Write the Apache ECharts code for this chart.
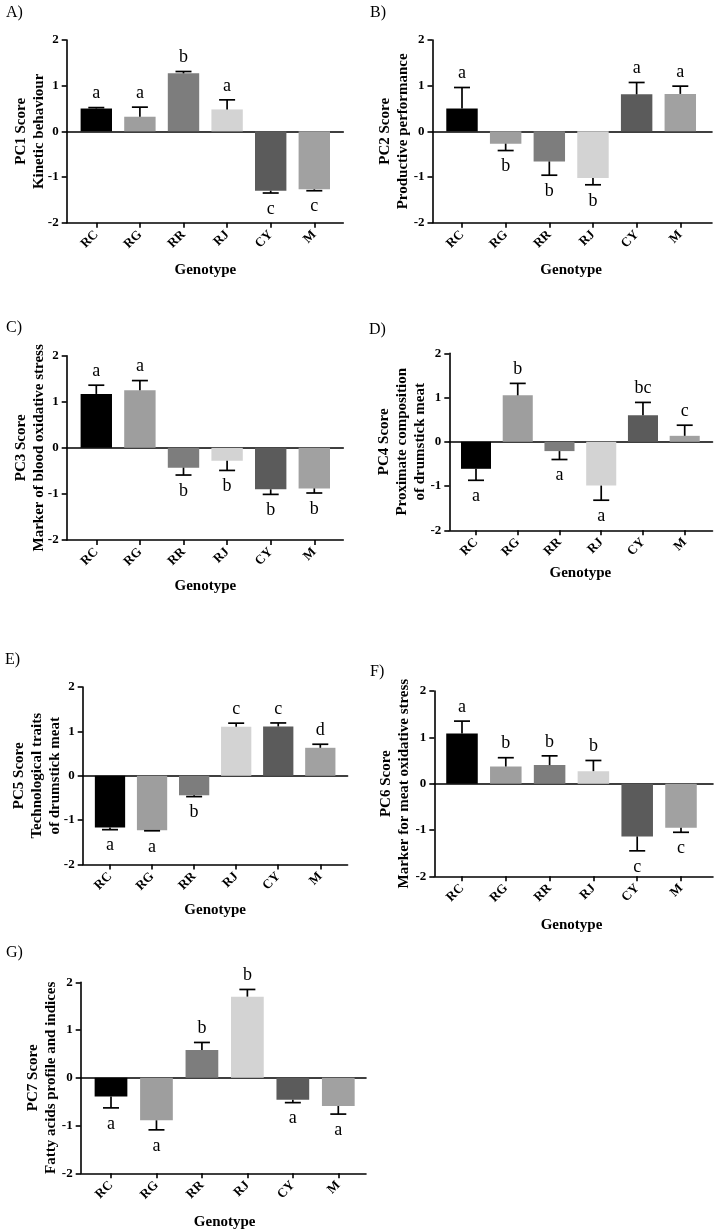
<!DOCTYPE html>
<html><head><meta charset="utf-8">
<script src="https://cdn.jsdelivr.net/npm/echarts@6/dist/echarts.min.js"></script>
<style>html,body{margin:0;padding:0;background:#fff}#c{width:714px;height:1230px}</style>
</head><body><div id="c"></div>
<script>
// ---------- data ----------
const genotypes = ['RC','RG','RR','RJ','CY','M'];
const yTickValues = [-2,-1,0,1,2];
const barColors = ['#000000','#9e9e9e','#7d7d7d','#d3d3d3','#5b5b5b','#a1a1a1'];

const pc1Mean = [0.50, 0.32, 1.27, 0.48, -1.30, -1.27];
const pc1Err  = [0.02, 0.21, 0.04, 0.21, 0.05, 0.03];
const pc1Letters = ['a','a','b','a','c','c'];

const pc2Mean = [0.50, -0.27, -0.66, -1.02, 0.81, 0.82];
const pc2Err  = [0.46, 0.15, 0.30, 0.15, 0.26, 0.17];
const pc2Letters = ['a','b','b','b','a','a'];

const pc3Mean = [1.17, 1.25, -0.43, -0.28, -0.90, -0.88];
const pc3Err  = [0.19, 0.21, 0.16, 0.21, 0.11, 0.10];
const pc3Letters = ['a','a','b','b','b','b'];

const pc4Mean = [-0.61, 1.05, -0.21, -0.99, 0.60, 0.135];
const pc4Err  = [0.26, 0.27, 0.19, 0.33, 0.29, 0.24];
const pc4Letters = ['a','b','a','a','bc','c'];

const pc5Mean = [-1.165, -1.23, -0.44, 1.105, 1.11, 0.63];
const pc5Err  = [0.05, 0.01, 0.03, 0.08, 0.08, 0.08];
const pc5Letters = ['a','a','b','c','c','d'];

const pc6Mean = [1.08, 0.37, 0.40, 0.27, -1.14, -0.95];
const pc6Err  = [0.27, 0.19, 0.20, 0.23, 0.31, 0.10];
const pc6Letters = ['a','b','b','b','c','c'];

const pc7Mean = [-0.39, -0.89, 0.58, 1.70, -0.46, -0.59];
const pc7Err  = [0.24, 0.20, 0.16, 0.15, 0.06, 0.17];
const pc7Letters = ['a','a','b','b','a','a'];

const panelTags = ['A)','B)','C)','D)','E)','F)','G)'];
const yTitles = [
  'PC1 Score\nKinetic behaviour',
  'PC2 Score\nProductive performance',
  'PC3 Score\nMarker of blood oxidative stress',
  'PC4 Score\nProximate composition\nof drumstick meat',
  'PC5 Score\nTechnological traits\nof drumstick meat',
  'PC6 Score\nMarker for meat oxidative stress',
  'PC7 Score\nFatty acids profile and indices'
];
const xTitle = 'Genotype';

// ---------- layout (pixels) ----------
const layout = [
  {axisX:66.7,  c0:96.3,  c5:314.3, end:343.3, top:40,    bot:222.7,  tagX:1,   tagY:0,   nameGap:19, xNameGap:39.5},
  {axisX:432.5, c0:462,   c5:680.3, end:712,   top:40,    bot:222.7,  tagX:365, tagY:0,   nameGap:20, xNameGap:39.5},
  {axisX:66.7,  c0:96.3,  c5:314.3, end:343.3, top:355.7, bot:540,    tagX:1,   tagY:315, nameGap:19, xNameGap:39},
  {axisX:449.3, c0:476,   c5:684.7, end:712.5, top:353.3, bot:530.3,  tagX:364, tagY:317, nameGap:20, xNameGap:35.5},
  {axisX:82.7,  c0:110,   c5:320.3, end:347.6, top:687,   bot:864.5,  tagX:0,   tagY:647, nameGap:19, xNameGap:38},
  {axisX:434.3, c0:462,   c5:681,   end:713,   top:691,   bot:876.3,  tagX:365, tagY:659, nameGap:21, xNameGap:41},
  {axisX:80.7,  c0:111,   c5:338.3, end:366,   top:982.3, bot:1173.3, tagX:1,   tagY:940, nameGap:21, xNameGap:41}
];

const means = [pc1Mean,pc2Mean,pc3Mean,pc4Mean,pc5Mean,pc6Mean,pc7Mean];
const errs = [pc1Err,pc2Err,pc3Err,pc4Err,pc5Err,pc6Err,pc7Err];
const letters = [pc1Letters,pc2Letters,pc3Letters,pc4Letters,pc5Letters,pc6Letters,pc7Letters];

const FONT = '"Liberation Serif", "Times New Roman", serif';
const axisLineStyle = {color:'#000', width:1.6};

const option = {
  animation:false,
  backgroundColor:'#fff',
  title:[], grid:[], xAxis:[], yAxis:[], series:[]
};

layout.forEach((L, p) => {
  const sp = (L.c5 - L.c0) / 5;
  const g0Left = L.c0 - sp/2, g0Right = L.c5 + sp/2;
  option.title.push({text:panelTags[p], left:L.tagX, top:L.tagY,
    textStyle:{fontFamily:FONT, fontSize:16, fontWeight:'normal', color:'#000'}});
  option.grid.push({left:g0Left, top:L.top, width:g0Right-g0Left, height:L.bot-L.top, containLabel:false, outerBoundsMode:'none'});
  option.grid.push({left:L.axisX, top:L.top, width:L.end-L.axisX, height:L.bot-L.top, containLabel:false, outerBoundsMode:'none'});
  const g0 = 2*p, g1 = 2*p+1;
  option.xAxis.push({
    type:'category', gridIndex:g0, data:genotypes, boundaryGap:true, position:'bottom',
    axisLine:{show:false, onZero:false},
    axisTick:{show:true, alignWithLabel:true, length:5, lineStyle:axisLineStyle},
    axisLabel:{rotate:45, margin:10, fontFamily:FONT, fontWeight:'bold', fontSize:13, color:'#000'},
    splitLine:{show:false},
    name:xTitle, nameLocation:'middle', nameGap:L.xNameGap, nameMoveOverlap:false,
    nameTextStyle:{fontFamily:FONT, fontWeight:'bold', fontSize:15, color:'#000'}
  });
  option.xAxis.push({type:'value', gridIndex:g1, min:0, max:1, position:'bottom',
    axisLine:{show:true, onZero:false, lineStyle:axisLineStyle},
    axisTick:{show:false}, axisLabel:{show:false}, splitLine:{show:false}});
  option.xAxis.push({type:'value', gridIndex:g1, min:0, max:1, position:'top',
    axisLine:{show:true, onZero:true, lineStyle:axisLineStyle},
    axisTick:{show:false}, axisLabel:{show:false}, splitLine:{show:false}});
  option.yAxis.push({type:'value', gridIndex:g0, min:yTickValues[0], max:yTickValues[yTickValues.length-1], interval:1, show:false});
  option.yAxis.push({
    type:'value', gridIndex:g1, min:yTickValues[0], max:yTickValues[yTickValues.length-1], interval:1,
    axisLine:{show:true, onZero:false, lineStyle:axisLineStyle},
    axisTick:{show:true, length:5, lineStyle:axisLineStyle},
    axisLabel:{margin:8, fontFamily:FONT, fontWeight:'bold', fontSize:13, color:'#000'},
    splitLine:{show:false},
    name:yTitles[p], nameLocation:'middle', nameRotate:90, nameGap:L.nameGap, nameMoveOverlap:false,
    nameTextStyle:{fontFamily:FONT, fontWeight:'bold', fontSize:15, lineHeight:18, color:'#000'}
  });
  const xi = 3*p, yi = 2*p;
  option.series.push({
    type:'bar', xAxisIndex:xi, yAxisIndex:yi, barCategoryGap:'28%',
    data: means[p].map((v,k)=>({value:v, itemStyle:{color:barColors[k]}})),
    z:2
  });
  const lets = letters[p];
  option.series.push({
    type:'custom', xAxisIndex:xi, yAxisIndex:yi, z:3,
    data: means[p].map((v,k)=>[k, v, errs[p][k]]),
    encode:{x:0, y:1},
    renderItem:(params, api) => {
      const k = api.value(0), v = api.value(1), e = api.value(2);
      const s = v >= 0 ? 1 : -1;
      const base = api.coord([k, v]);
      const tip = api.coord([k, v + s*e]);
      const hw = 8;
      const ls = {stroke:'#000', lineWidth:1.7};
      return {type:'group', children:[
        {type:'line', shape:{x1:base[0], y1:base[1], x2:tip[0], y2:tip[1]}, style:ls},
        {type:'line', shape:{x1:tip[0]-hw, y1:tip[1], x2:tip[0]+hw, y2:tip[1]}, style:ls},
        {type:'text', style:{text:lets[params.dataIndex], x:tip[0], y: s>0 ? tip[1]-5 : tip[1]+7,
          align:'center', verticalAlign: s>0 ? 'bottom' : 'top',
          fontFamily:FONT, fontSize:18, fill:'#000'}}
      ]};
    }
  });
});

const chart = echarts.init(document.getElementById('c'), null, {renderer:'canvas'});
chart.setOption(option);
</script>
</body></html>
